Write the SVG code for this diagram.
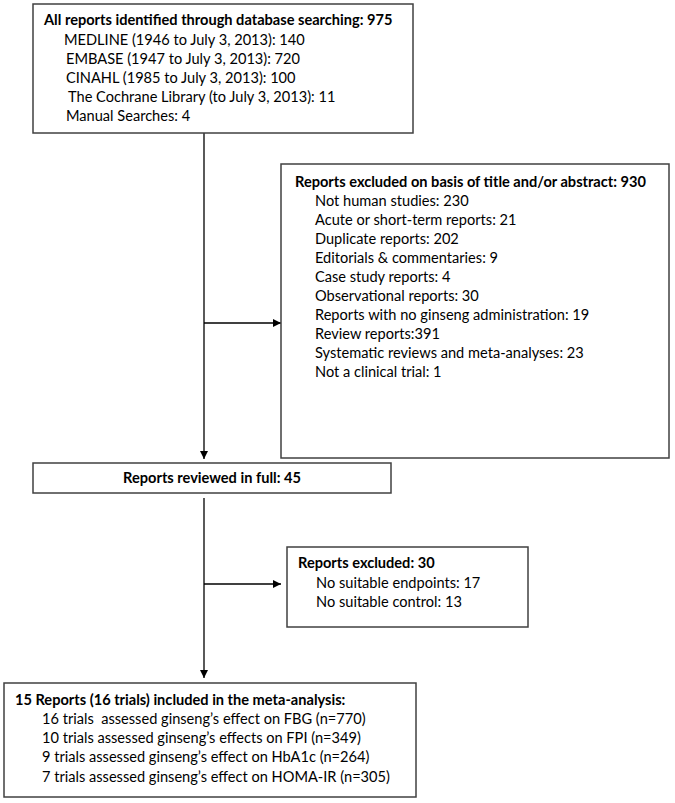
<svg xmlns="http://www.w3.org/2000/svg" width="675" height="803" viewBox="0 0 675 803">
<style>
.box{fill:#fff;stroke:#404040;stroke-width:1.5}
.t{font-family:Lato,'Liberation Sans',sans-serif;font-size:14.6px;fill:#000}
.b{font-weight:bold}
.c{stroke:#000;stroke-width:1.3;fill:none}
</style>
<defs>
<marker id="ah" markerWidth="8" markerHeight="8" refX="8" refY="4" orient="auto" markerUnits="userSpaceOnUse"><path d="M0,0 L8,4 L0,8 z" fill="#000"/></marker>
</defs>
<rect width="675" height="803" fill="#fff"/>
<g id="connectors">
<path class="c" d="M204,133 V459" marker-end="url(#ah)"/>
<path class="c" d="M204,323 H281" marker-end="url(#ah)"/>
<path class="c" d="M204,498 V678" marker-end="url(#ah)"/>
<path class="c" d="M204,584 H281" marker-end="url(#ah)"/>
</g>
<g id="identified">
<rect class="box" x="33" y="4" width="380" height="129"/>
<text class="t b" x="44" y="25">All reports identified through database searching: 975</text>
<text class="t" x="64" y="45">MEDLINE (1946 to July 3, 2013): 140</text>
<text class="t" x="66" y="64">EMBASE (1947 to July 3, 2013): 720</text>
<text class="t" x="66" y="83">CINAHL (1985 to July 3, 2013): 100</text>
<text class="t" x="68" y="102">The Cochrane Library (to July 3, 2013): 11</text>
<text class="t" x="66" y="121">Manual Searches: 4</text>
</g>
<g id="excluded-title">
<rect class="box" x="281" y="164" width="388" height="294"/>
<text class="t b" x="295" y="187">Reports excluded on basis of title and/or abstract: 930</text>
<text class="t" x="315" y="206">Not human studies: 230</text>
<text class="t" x="315" y="225">Acute or short-term reports: 21</text>
<text class="t" x="315" y="244">Duplicate reports: 202</text>
<text class="t" x="315" y="263">Editorials &amp; commentaries: 9</text>
<text class="t" x="315" y="282">Case study reports: 4</text>
<text class="t" x="315" y="301">Observational reports: 30</text>
<text class="t" x="315" y="320">Reports with no ginseng administration: 19</text>
<text class="t" x="315" y="339">Review reports:391</text>
<text class="t" x="315" y="358">Systematic reviews and meta-analyses: 23</text>
<text class="t" x="315" y="377">Not a clinical trial: 1</text>
</g>
<g id="full-review">
<rect class="box" x="33" y="463" width="358" height="30"/>
<text class="t b" x="212" y="483" text-anchor="middle">Reports reviewed in full: 45</text>
</g>
<g id="excluded-full">
<rect class="box" x="287" y="547" width="241" height="80"/>
<text class="t b" x="298" y="568">Reports excluded: 30</text>
<text class="t" x="316" y="588">No suitable endpoints: 17</text>
<text class="t" x="316" y="607">No suitable control: 13</text>
</g>
<g id="included">
<rect class="box" x="4" y="683" width="412" height="114"/>
<text class="t b" x="15" y="705">15 Reports (16 trials) included in the meta-analysis:</text>
<text class="t" x="42" y="724" xml:space="preserve">16 trials  assessed ginseng’s effect on FBG (n=770)</text>
<text class="t" x="42" y="743">10 trials assessed ginseng’s effects on FPI (n=349)</text>
<text class="t" x="42" y="762">9 trials assessed ginseng’s effect on HbA1c (n=264)</text>
<text class="t" x="42" y="782">7 trials assessed ginseng’s effect on HOMA-IR (n=305)</text>
</g>
</svg>
